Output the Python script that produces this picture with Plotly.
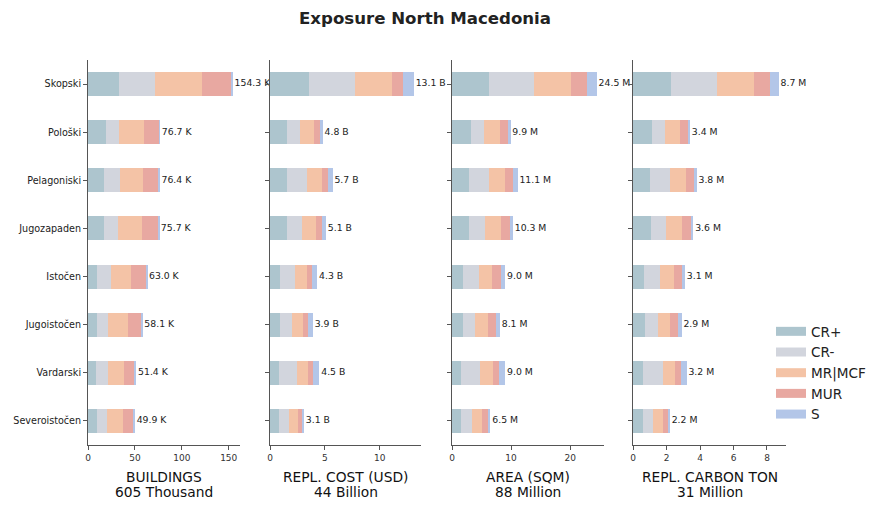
import plotly.graph_objects as go

regions = ["Skopski", "Pološki", "Pelagoniski", "Jugozapaden", "Istočen",
           "Jugoistočen", "Vardarski", "Severoistočen"]
classes = ["CR+", "CR-", "MR|MCF", "MUR", "S"]
colors = ["#adc5ce", "#d2d5dd", "#f4c3a6", "#e8a8a1", "#b3c6e8"]

# Buildings (thousands)
buildings = {
    "CR+":    [33.1, 19.1, 16.9, 16.9, 10.1, 10.1, 8.0, 9.1],
    "CR-":    [37.8, 14.0, 17.3, 15.1, 14.3, 11.1, 13.3, 11.1],
    "MR|MCF": [50.7, 27.0, 24.8, 25.9, 21.6, 21.6, 17.3, 17.3],
    "MUR":    [30.5, 16.2, 16.2, 17.3, 16.2, 14.7, 10.5, 11.5],
    "S":      [2.2, 0.4, 1.2, 0.5, 0.8, 0.6, 2.3, 0.9],
}
# Replacement cost (billion USD)
cost = {
    "CR+":    [3.55, 1.53, 1.53, 1.53, 0.89, 0.89, 0.80, 0.80],
    "CR-":    [4.20, 1.20, 1.84, 1.38, 1.38, 1.10, 1.66, 0.92],
    "MR|MCF": [3.40, 1.29, 1.38, 1.29, 1.10, 1.01, 1.01, 0.83],
    "MUR":    [1.00, 0.55, 0.55, 0.55, 0.46, 0.46, 0.46, 0.37],
    "S":      [0.95, 0.23, 0.40, 0.35, 0.47, 0.44, 0.57, 0.18],
}
# Area (million sqm)
area = {
    "CR+":    [6.23, 3.20, 2.83, 2.83, 1.81, 1.81, 1.47, 1.47],
    "CR-":    [7.65, 2.20, 3.40, 2.72, 2.72, 2.04, 3.23, 1.87],
    "MR|MCF": [6.29, 2.75, 2.72, 2.72, 2.21, 2.21, 2.21, 1.70],
    "MUR":    [2.72, 1.40, 1.36, 1.53, 1.53, 1.36, 1.02, 1.02],
    "S":      [1.61, 0.35, 0.79, 0.50, 0.73, 0.68, 1.07, 0.44],
}
# Replacement carbon (million ton)
carbon = {
    "CR+":    [2.26, 1.12, 1.00, 1.06, 0.64, 0.70, 0.58, 0.58],
    "CR-":    [2.76, 0.78, 1.20, 0.90, 0.96, 0.78, 1.20, 0.60],
    "MR|MCF": [2.22, 0.90, 0.96, 0.96, 0.84, 0.72, 0.72, 0.60],
    "MUR":    [0.96, 0.48, 0.48, 0.54, 0.48, 0.48, 0.36, 0.36],
    "S":      [0.50, 0.12, 0.16, 0.14, 0.18, 0.22, 0.34, 0.06],
}
panels = [
    (buildings, "K", ["BUILDINGS", "605 Thousand"], [0, 50, 100, 150]),
    (cost, "B", ["REPL. COST (USD)", "44 Billion"], [0, 5, 10]),
    (area, "M", ["AREA (SQM)", "88 Million"], [0, 10, 20]),
    (carbon, "M", ["REPL. CARBON TON", "31 Million"], [0, 2, 4, 6, 8]),
]
domains = [(88, 240), (270, 421), (452, 604), (633, 786)]

W, H = 885, 510
FONT = "DejaVu Sans"
fig = go.Figure()
annotations = []
layout = {}
for i, (data, unit, title, ticks) in enumerate(panels):
    xa = "x" if i == 0 else f"x{i+1}"
    ya = "y" if i == 0 else f"y{i+1}"
    totals = [sum(data[c][j] for c in classes) for j in range(len(regions))]
    for c, col in zip(classes, colors):
        fig.add_trace(go.Bar(
            y=regions, x=data[c], orientation="h", name=c,
            marker=dict(color=col, line=dict(width=0)), width=0.5,
            legendgroup=c, showlegend=False, xaxis=xa, yaxis=ya,
            hoverinfo="x+name"))
    fig.add_trace(go.Scatter(
        y=regions, x=totals, mode="text",
        text=[f"\u2009{t:.1f} {unit}" for t in totals],
        textposition="middle right", textfont=dict(size=9.3, color="#222", family=FONT),
        showlegend=False, xaxis=xa, yaxis=ya, cliponaxis=False, hoverinfo="skip"))
    d0, d1 = domains[i]
    xmax = max(totals) * 1.05
    layout["xaxis" if i == 0 else f"xaxis{i+1}"] = dict(
        domain=[d0 / W, d1 / W], range=[0, xmax], anchor=ya,
        tickvals=ticks, ticks="outside", ticklen=4, tickcolor="#555",
        showline=True, linecolor="#555", linewidth=1, showgrid=False, zeroline=False,
        tickfont=dict(size=9, color="#333", family=FONT), automargin=False)
    layout["yaxis" if i == 0 else f"yaxis{i+1}"] = dict(
        domain=[(H - 445) / H, (H - 60) / H], anchor=xa,
        categoryorder="array", categoryarray=regions, autorange=False,
        range=[len(regions) - 0.5, -0.5],
        ticks="outside", ticklen=4, tickcolor="#555",
        showline=True, linecolor="#555", linewidth=1, showgrid=False, zeroline=False,
        showticklabels=(i == 0), tickfont=dict(size=9.6, color="#222", family=FONT),
        automargin=False)
    for line, ypix in zip(title, [477, 492]):
        annotations.append(dict(
            text=line, x=(d0 + d1) / 2 / W, y=(H - ypix) / H, xref="paper", yref="paper",
            xanchor="center", yanchor="middle", showarrow=False,
            font=dict(size=13.8, color="#111", family=FONT)))

# legend entries drawn as wide swatches (matplotlib-style patches)
for c, col in zip(classes, colors):
    fig.add_trace(go.Scatter(
        x=[None], y=[None], mode="lines", name=c, legendgroup=c,
        line=dict(color=col, width=9), showlegend=True, hoverinfo="skip"))

fig.update_layout(
    width=W, height=H, margin=dict(l=0, r=0, t=0, b=0),
    paper_bgcolor="white", plot_bgcolor="white", barmode="stack", bargap=0.5,
    title=dict(text="<b>Exposure North Macedonia</b>", x=425 / W, xanchor="center",
               y=(H - 18) / H, yanchor="middle",
               font=dict(size=16.6, color="#222", family=FONT)),
    legend=dict(x=771 / W, y=(H - 316) / H, xanchor="left", yanchor="top",
                font=dict(size=13.6, color="#222", family=FONT),
                itemwidth=30, tracegroupgap=0, bgcolor="rgba(0,0,0,0)"),
    annotations=annotations,
    **layout,
)
fig.write_html("out.html")
